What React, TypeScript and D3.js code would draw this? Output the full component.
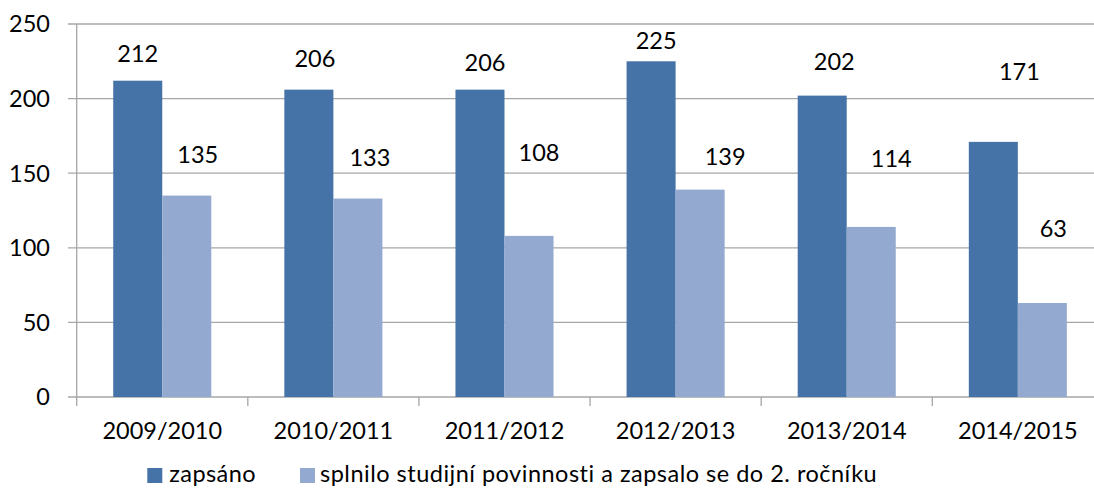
import React from 'react';
import * as d3 from 'd3';

// school years on the x axis
const years = ['2009/2010', '2010/2011', '2011/2012', '2012/2013', '2013/2014', '2014/2015'];
const seriesNames = ['zapsáno', 'splnilo studijní povinnosti a zapsalo se do 2. ročníku'];
const zapsano = [212, 206, 206, 225, 202, 171];
const splnilo = [135, 133, 108, 139, 114, 63];
const yTicks = [0, 50, 100, 150, 200, 250];

// where the data labels were dragged to (label baseline, in axis units) and their sideways nudge
const zapsanoLabelLevel = [224.3, 221.4, 218.7, 233.2, 219.1, 212.2];
const zapsanoLabelNudge = [0, 6, 5, 5, 12, 26];
const splniloLabelLevel = [156.6, 154.8, 158.2, 155.5, 154.4, 107.4];
const splniloLabelNudge = [11, 12, 10, 25, 20, 11];

const W = 1094;
const H = 488;
const FONT = 'Lato, "Open Sans", sans-serif';
const FS = 23.5;
const colors = ['#4573A7', '#94A9D0'];
const gridColor = '#A6A6A6';

export default function App() {
  const x = d3.scaleBand<string>().domain(years).range([76.7, 1103.4]);
  const inner = d3.scaleBand<number>().domain([0, 1]).range([0, x.step()]).paddingOuter(0.745);
  const y = d3.scaleLinear().domain([0, 250]).range([397, 24]);

  const x0 = x.range()[0];
  const x1 = x.range()[1];
  const series = [zapsano, splnilo];
  const levels = [zapsanoLabelLevel, splniloLabelLevel];
  const nudges = [zapsanoLabelNudge, splniloLabelNudge];

  return (
    <svg width={W} height={H} style={{ position: 'absolute', left: 0, top: 0, background: '#fff' }}
      fontFamily={FONT}>
      {/* gridlines + y ticks */}
      {yTicks.map(t => (
        <g key={t}>
          <line x1={68} x2={x1} y1={y(t)} y2={y(t)} stroke={gridColor} strokeWidth={1.3} />
          <text x={50} y={y(t)} dy="0.36em" textAnchor="end" fontSize={FS} fill="#000">{t}</text>
        </g>
      ))}
      {/* y axis line */}
      <line x1={x0} x2={x0} y1={y(250)} y2={406} stroke={gridColor} strokeWidth={1.3} />
      {/* x ticks between categories */}
      {years.map(yr => (
        <line key={yr} x1={(x(yr) ?? 0) + x.step()} x2={(x(yr) ?? 0) + x.step()} y1={y(0)} y2={406}
          stroke={gridColor} strokeWidth={1.3} />
      ))}

      {/* bars */}
      {series.map((vals, s) => (
        <g key={s}>
          {vals.map((v, i) => (
            <rect key={i}
              x={(x(years[i]) ?? 0) + (inner(s) ?? 0)}
              y={y(v)}
              width={inner.bandwidth()}
              height={y(0) - y(v)}
              fill={colors[s]} />
          ))}
        </g>
      ))}

      {/* data labels */}
      {series.map((vals, s) => (
        <g key={'l' + s}>
          {vals.map((v, i) => (
            <text key={i}
              x={(x(years[i]) ?? 0) + (inner(s) ?? 0) + inner.bandwidth() / 2 + nudges[s][i]}
              y={y(levels[s][i])}
              textAnchor="middle" fontSize={FS} fill="#000">{v}</text>
          ))}
        </g>
      ))}

      {/* category labels */}
      {years.map(yr => (
        <text key={yr} x={(x(yr) ?? 0) + x.bandwidth() / 2} y={439.3} textAnchor="middle"
          fontSize={FS} fill="#000">{yr}</text>
      ))}

      {/* legend */}
      <rect x={147.3} y={468} width={15} height={15} fill={colors[0]} />
      <text x={169.3} y={481.7} fontSize={FS} letterSpacing={0.4} fill="#000">{seriesNames[0]}</text>
      <rect x={300} y={468} width={15} height={15} fill={colors[1]} />
      <text x={320} y={481.7} fontSize={FS} letterSpacing={0.5} fill="#000">{seriesNames[1]}</text>
    </svg>
  );
}
